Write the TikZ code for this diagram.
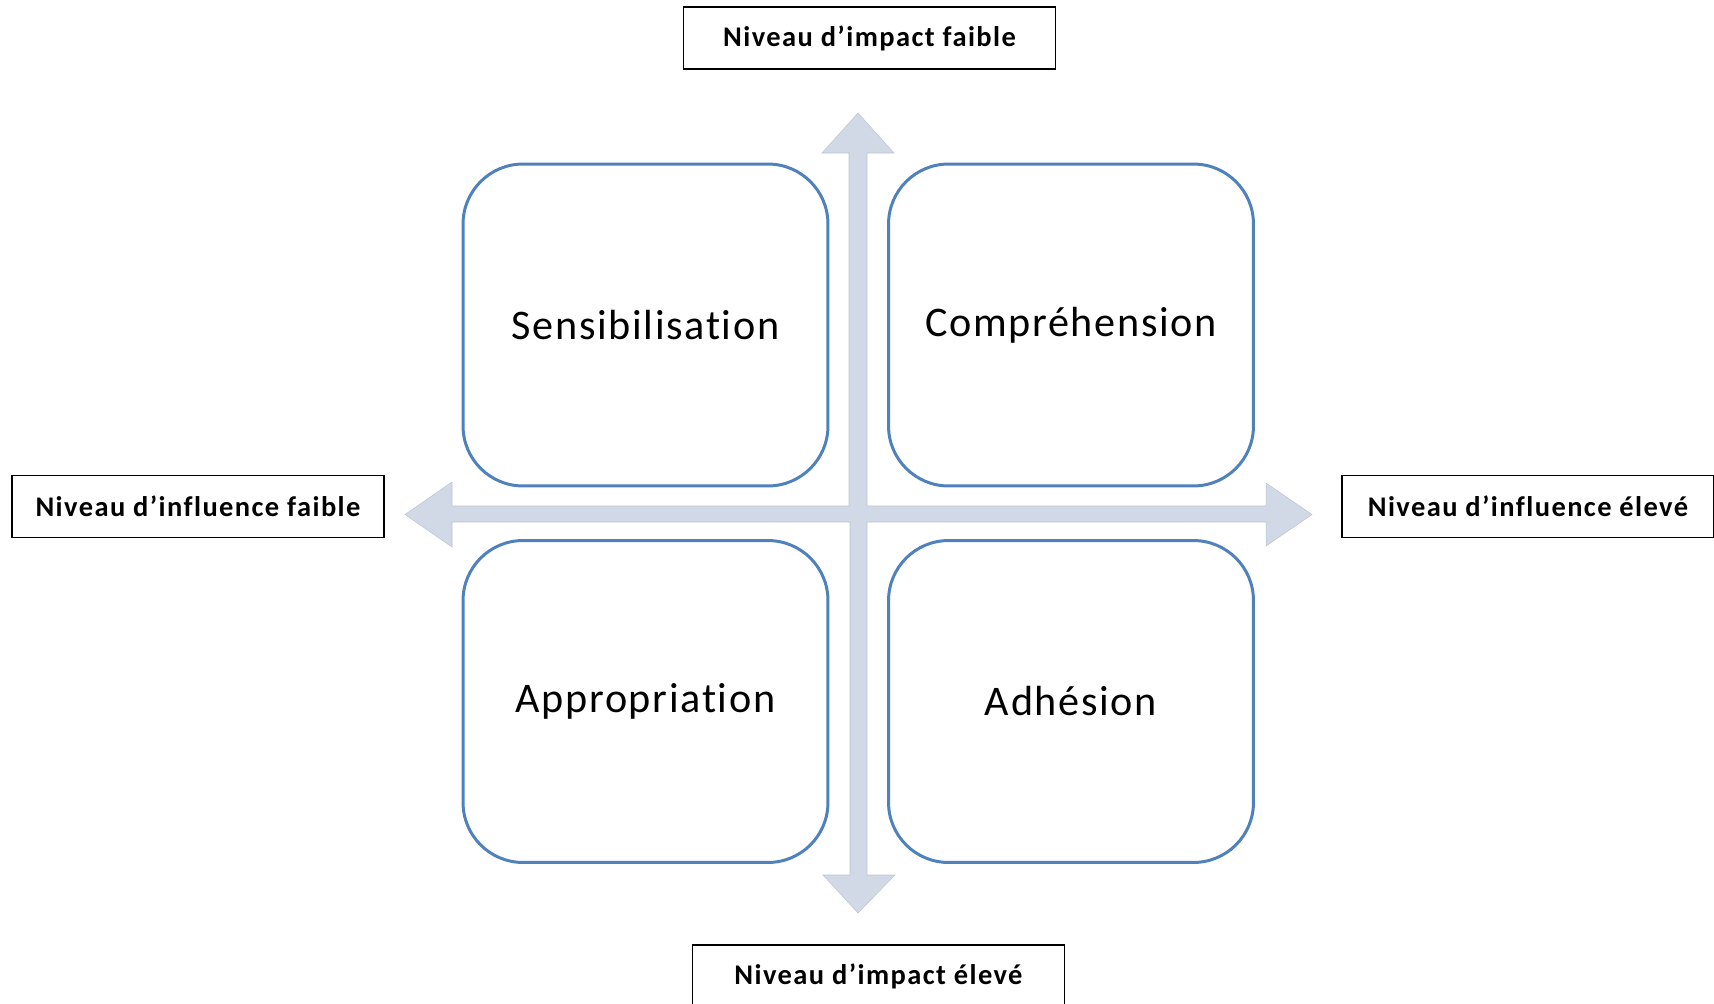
\documentclass[tikz,border=0pt]{standalone}
\usepackage{fontspec}
\setmainfont{Carlito}[Ligatures=NoCommon]
\newfontfamily\quadfont{Carlito}[Ligatures=NoCommon,LetterSpace=4]
\newfontfamily\labelfont{Carlito}[Ligatures=NoCommon,LetterSpace=5]
\usetikzlibrary{positioning}

\definecolor{boxblue}{HTML}{4F81BD}
\definecolor{axisfill}{HTML}{D1D9E7}
\definecolor{axisedge}{HTML}{BFC5D0}

\tikzset{
  quadrant/.style={draw=boxblue, line width=1.7pt, fill=white, rounded corners=1.2cm,
    minimum width=7.3cm, minimum height=6.44cm, font=\quadfont\fontsize{24}{28}\selectfont},
  axislabel/.style={draw=black, line width=0.9pt, fill=white, minimum width=7.44cm,
    minimum height=1.24cm, font=\labelfont\bfseries\fontsize{16.2}{19}\selectfont},
  axisarrow/.style={fill=axisfill, draw=axisedge, line width=0.3pt},
}

\begin{document}
\begin{tikzpicture}[x=0.02cm,y=-0.02cm]
            \useasboundingbox (0,0) rectangle (1714,1004);
            % axes
            \coordinate (up) at (858,113);
            \coordinate (down) at (858,913);
            \coordinate (left) at (405,514.5);
            \coordinate (right) at (1312,514.5);
            \draw[axisarrow] (left) -- (452,482) -- (452,506) -- (849,506) -- (849,153) -- (822,153)
                -- (up) -- (894,153) -- (867,153) -- (867,506) -- (1266,506) -- (1266,483)
                -- (right) -- (1266,546) -- (1266,522) -- (867,522) -- (867,875) -- (895,875)
                -- (down) -- (823,875) -- (850,875) -- (850,522) -- (452,522) -- (452,547) -- cycle;
            % quadrants
            \node[quadrant] at (645.5,325) (sens) {Sensibilisation};
            \node[quadrant] at (1071,325) (comp) {Compréhension};
            \node[quadrant] at (645.5,701.5) (appr) {Appropriation};
            \node[quadrant] at (1071,701.5) (adhe) {Adhésion};
            % labels
            \node[axislabel] at (869.5,38) (impf) {Niveau d’impact faible};
            \node[axislabel] at (878.5,976) (impe) {Niveau d’impact élevé};
            \node[axislabel] at (198,506.5) (inff) {Niveau d’influence faible};
            \node[axislabel] at (1528,506.5) (infe) {Niveau d’influence élevé};
        \end{tikzpicture}
\end{document}
